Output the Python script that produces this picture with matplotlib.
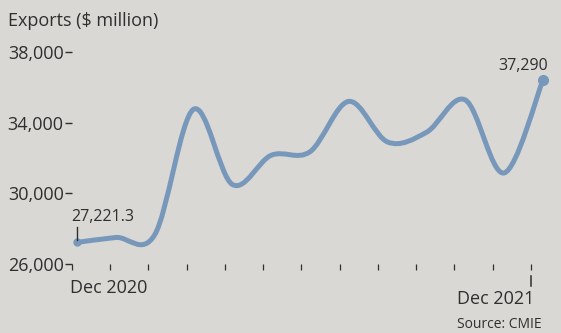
import numpy as np
import matplotlib.pyplot as plt
from matplotlib.path import Path
from matplotlib.patches import PathPatch

plt.rcParams['font.family'] = ['Open Sans', 'DejaVu Sans']

months = ['Dec 2020', 'Jan', 'Feb', 'Mar', 'Apr', 'May', 'Jun',
          'Jul', 'Aug', 'Sep', 'Oct', 'Nov', 'Dec 2021']
exports = [27221.3, 27500, 27650, 34750, 30500, 32150, 32350,
           35200, 32900, 33450, 35280, 31150, 36400]
y_ticks = [26000, 30000, 34000, 38000]
y_labels = ['26,000', '30,000', '34,000', '38,000']
first_label = '27,221.3'
last_label = '37,290'

bg = '#d9d8d4'
ink = '#2f2f2f'
line_col = '#7898bb'


def smooth_path(xs, ys):
    # catmull-rom through the points, drawn as cubic beziers
    pts = np.column_stack([xs, ys])
    ext = np.vstack([pts[0], pts, pts[-1]])
    verts = [pts[0]]
    codes = [Path.MOVETO]
    for i in range(len(pts) - 1):
        p0, p1, p2, p3 = ext[i], ext[i + 1], ext[i + 2], ext[i + 3]
        verts += [p1 + (p2 - p0) / 6, p2 - (p3 - p1) / 6, p2]
        codes += [Path.CURVE4] * 3
    return Path(verts, codes)


fig = plt.figure(figsize=(5.61, 3.33), dpi=100, facecolor=bg)
ax = fig.add_axes([72 / 561, 69 / 333, 483 / 561, 224.5 / 333])
ax.set_facecolor(bg)

x = np.arange(len(months))
ax.add_patch(PathPatch(smooth_path(x, exports), facecolor='none',
                       edgecolor=line_col, lw=3.6, capstyle='round',
                       joinstyle='round'))
ax.plot([x[0]], [exports[0]], 'o', color=line_col, ms=5)
ax.plot([x[-1]], [exports[-1]], 'o', color=line_col, ms=7)

ax.set_xlim(-0.129, 12.31)
ax.set_ylim(26000, 38700)
for s in ax.spines.values():
    s.set_visible(False)

ax.set_yticks(y_ticks)
ax.set_yticklabels(y_labels, fontsize=13, color=ink)
ax.tick_params(axis='y', length=5, width=1.0, color=ink, pad=1)

xt = np.linspace(-0.129, 11.69, 13)
ax.set_xticks(xt)
ax.set_xticklabels([''] * 13)
ax.tick_params(axis='x', length=4.5, width=0.9, color=ink)
ax.plot([xt[-1], xt[-1]], [-0.055, -0.1], color=ink, lw=1.1,
        transform=ax.get_xaxis_transform(), clip_on=False)

ax.text(-0.18, -0.105, months[0], transform=ax.get_xaxis_transform(),
        ha='left', va='center', fontsize=13, color=ink)
ax.text(xt[-1] + 0.1, -0.155, months[-1], transform=ax.get_xaxis_transform(),
        ha='right', va='center', fontsize=13, color=ink)

# value labels
ax.plot([x[0], x[0]], [exports[0] + 150, exports[0] + 900], color=ink, lw=1)
ax.text(x[0] - 0.15, exports[0] + 1450, first_label, ha='left', va='center',
        fontsize=11.5, color=ink)
ax.text(x[-1] + 0.12, exports[-1] + 800, last_label, ha='right', va='center',
        fontsize=11.5, color=ink)

fig.text(8 / 561, 1 - 21 / 333, 'Exports ($ million)', ha='left',
         va='center', fontsize=13, color=ink)
fig.text(542 / 561, 1 - 325 / 333, 'Source: CMIE', ha='right', va='center',
         fontsize=10, color=ink)

fig.savefig('out.png', dpi=100, facecolor=bg)
